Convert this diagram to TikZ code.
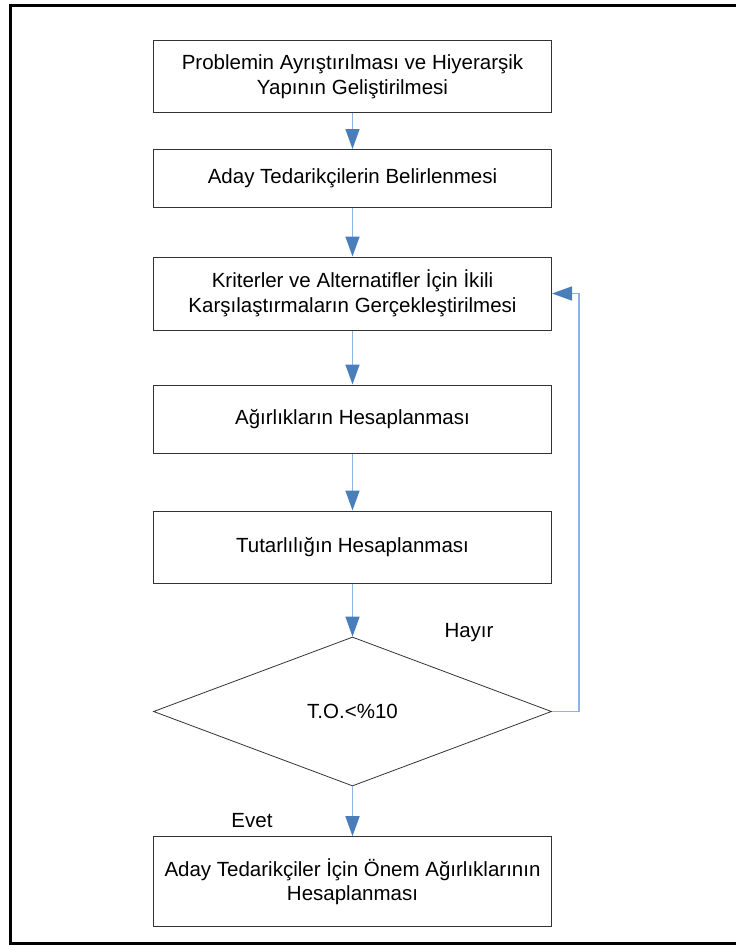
\documentclass[tikz,border=0pt]{standalone}
\usepackage{fontspec}
\setmainfont{Liberation Sans}
\usetikzlibrary{shapes.geometric,arrows.meta}
\definecolor{linkblue}{HTML}{8DB3E2}
\definecolor{tipblue}{HTML}{4A7EBB}
\begin{document}
\begin{tikzpicture}[x=1bp,y=-1bp,
  stepbox/.style={draw=black!80,line width=1bp,minimum width=398bp,align=center,inner sep=0pt},
  testbox/.style={draw=black!80,line width=0.8bp,shape=diamond,aspect=2.67,minimum width=398bp,minimum height=149bp,inner sep=0pt},
  flow/.style={draw=linkblue,line width=1.5bp,-{Triangle[length=20bp,width=14bp,color=tipblue]}},
  font=\fontsize{20.5bp}{24.5bp}\selectfont]
 \useasboundingbox (0,0) rectangle (736,945);
 %% outer frame, right side runs off the page
 \draw[line width=3bp] (760,5) -| (10,943) -- (760,943);
 %% process steps
 \node[stepbox,minimum height=72bp] (p1) at (352.5,76.7) {Problemin Ayrıştırılması ve Hiyerarşik\\Yapının Geliştirilmesi};
 \node[stepbox,minimum height=58bp] (p2) at (352.5,178.5) {Aday Tedarikçilerin Belirlenmesi};
 \node[stepbox,minimum height=73bp] (p3) at (352.5,293.5) {Kriterler ve Alternatifler İçin İkili\\Karşılaştırmaların Gerçekleştirilmesi};
 \node[stepbox,minimum height=68bp] (p4) at (352.5,419) {Ağırlıkların Hesaplanması};
 \node[stepbox,minimum height=72bp] (p5) at (352.5,547) {Tutarlılığın Hesaplanması};
 \node[testbox] (dec) at (352.5,711.5) {T.O.<\%10};
 \node[stepbox,minimum height=90bp] (p6) at (352.5,881.7) {Aday Tedarikçiler İçin Önem Ağırlıklarının\\Hesaplanması};
 %% answers
 \node (no) at (469,633) {Hayır};
 \node (yes) at (252,821) {Evet};
 %% connectors
 \foreach \a/\b in {p1/p2,p2/p3,p3/p4,p4/p5,p5/dec,dec/p6}{\draw[flow] (\a) -- (\b);}
 \draw[flow] (dec.east) -- ++(27,0) |- (p3.east);
\end{tikzpicture}
\end{document}
